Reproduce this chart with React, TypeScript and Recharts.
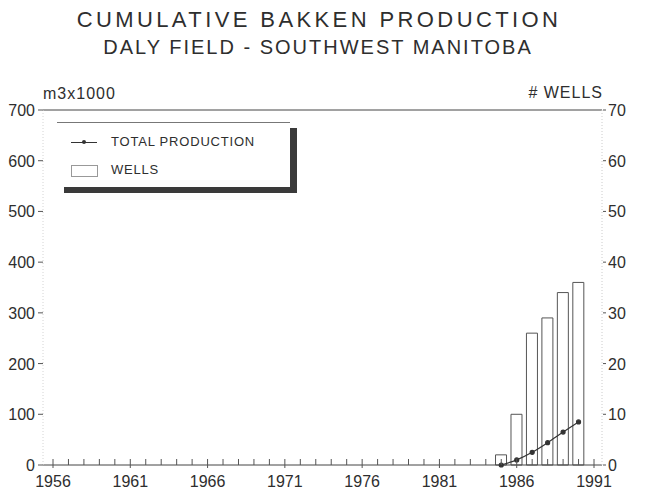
import React from "react";
import { ComposedChart, Bar, Line, XAxis, YAxis, CartesianGrid } from "recharts";

const years = [1985, 1986, 1987, 1988, 1989, 1990];
const wells = [2, 10, 26, 29, 34, 36];
const production = [0, 10, 25, 44, 65, 85];

const majorYears = [1956, 1961, 1966, 1971, 1976, 1981, 1986, 1991];
const allYears = Array.from({ length: 36 }, (_, i) => 1956 + i);
const prodTicks = [0, 100, 200, 300, 400, 500, 600, 700];
const wellTicks = [0, 10, 20, 30, 40, 50, 60, 70];

const data = years.map((year, i) => ({ year, wells: wells[i], production: production[i] }));

const FONT = '"Liberation Sans", Arial, sans-serif';
const INK = "#2e2e2e";

function YearTick({ x, y, payload }: any) {
  const major = majorYears.includes(payload.value);
  return (
    <g>
      <line x1={x} x2={x} y1={y - 6} y2={major ? y + 3 : y} stroke="#555" />
      {major && (
        <text x={x} y={y + 22} textAnchor="middle" fontSize={16} fill={INK} fontFamily={FONT}>
          {payload.value}
        </text>
      )}
    </g>
  );
}

function LeftTick({ x, y, payload }: any) {
  return (
    <g>
      <line x1={x - 5} x2={x} y1={y} y2={y} stroke="#555" />
      <text x={x - 8} y={y + 6} textAnchor="end" fontSize={16} fill={INK} fontFamily={FONT}>
        {payload.value}
      </text>
    </g>
  );
}

function RightTick({ x, y, payload }: any) {
  return (
    <g>
      <line x1={x + 1} x2={x + 4} y1={y} y2={y} stroke="#555" />
      <text x={x + 6} y={y + 6} textAnchor="start" fontSize={16} fill={INK} fontFamily={FONT}>
        {payload.value}
      </text>
    </g>
  );
}

export default function App() {
  return (
    <div
      style={{
        position: "fixed",
        left: 0,
        top: 0,
        width: 648,
        height: 492,
        background: "#fff",
        fontFamily: FONT,
        color: INK,
      }}
    >
      <div
        style={{
          position: "absolute",
          top: 7,
          left: 0,
          width: 638,
          textAlign: "center",
          fontSize: 22,
          letterSpacing: 3.4,
        }}
      >
        CUMULATIVE BAKKEN PRODUCTION
      </div>
      <div
        style={{
          position: "absolute",
          top: 36,
          left: 0,
          width: 636,
          textAlign: "center",
          fontSize: 20,
          letterSpacing: 2,
        }}
      >
        DALY FIELD - SOUTHWEST MANITOBA
      </div>
      <div style={{ position: "absolute", top: 85, left: 43, fontSize: 16, letterSpacing: 1 }}>m3x1000</div>
      <div style={{ position: "absolute", top: 84, right: 45, fontSize: 16, letterSpacing: 1 }}># WELLS</div>

      <ComposedChart
        width={648}
        height={492}
        data={data}
        margin={{ top: 110, right: 0, bottom: 0, left: 0 }}
      >
        <CartesianGrid
          yAxisId="left"
          vertical={false}
          horizontalValues={[700]}
          stroke="#444"
        />
        <XAxis
          dataKey="year"
          type="number"
          domain={[1956, 1991]}
          ticks={allYears}
          interval={0}
          padding={{ left: 10, right: 8 }}
          height={27}
          tickSize={0}
          tickMargin={0}
          tickLine={false}
          axisLine={{ stroke: "#444" }}
          tick={<YearTick />}
        />
        <YAxis
          yAxisId="left"
          domain={[0, 700]}
          ticks={prodTicks}
          width={43}
          tickSize={0}
          tickMargin={0}
          tickLine={false}
          axisLine={{ stroke: "#d4d4d4", strokeDasharray: "1 2" }}
          tick={<LeftTick />}
        />
        <YAxis
          yAxisId="right"
          orientation="right"
          domain={[0, 70]}
          ticks={wellTicks}
          width={46}
          tickSize={0}
          tickMargin={0}
          tickLine={false}
          axisLine={{ stroke: "#ccc", strokeDasharray: "1 2" }}
          tick={<RightTick />}
        />
        <Bar
          yAxisId="right"
          dataKey="wells"
          barSize={11}
          fill="#fff"
          stroke="#555"
          strokeWidth={1}
          isAnimationActive={false}
        />
        <Line
          yAxisId="left"
          dataKey="production"
          type="monotone"
          stroke="#333"
          strokeWidth={1.2}
          dot={{ r: 2, fill: "#333", stroke: "#333" }}
          isAnimationActive={false}
        />
      </ComposedChart>

      <div
        style={{
          position: "absolute",
          left: 57,
          top: 122,
          width: 233,
          height: 64,
          background: "#fff",
          borderTop: "1px solid #777",
          boxShadow: "7px 6px 0 0 #3a3a3a",
          fontSize: 13,
          letterSpacing: 0.8,
        }}
      >
        <div style={{ position: "absolute", left: 14, top: 19, width: 26, height: 1, background: "#333" }} />
        <div
          style={{
            position: "absolute",
            left: 25,
            top: 17,
            width: 4,
            height: 4,
            borderRadius: 2,
            background: "#333",
          }}
        />
        <div style={{ position: "absolute", left: 54, top: 11 }}>TOTAL PRODUCTION</div>
        <div
          style={{
            position: "absolute",
            left: 14,
            top: 42,
            width: 25,
            height: 10,
            border: "1px solid #999",
          }}
        />
        <div style={{ position: "absolute", left: 54, top: 39 }}>WELLS</div>
      </div>
    </div>
  );
}
